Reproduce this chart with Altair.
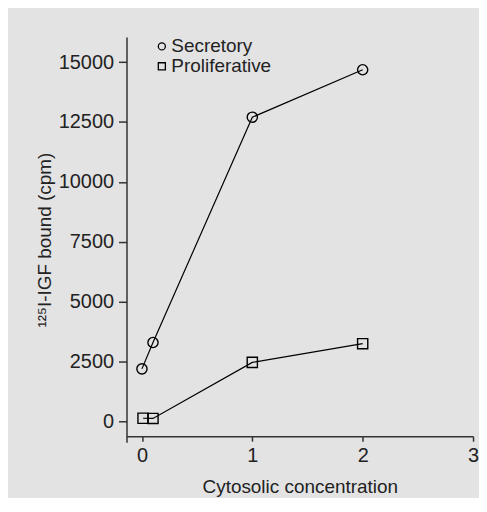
import altair as alt
import pandas as pd

series = ["Secretory"] * 4 + ["Proliferative"] * 4
conc = [0, 0.1, 1, 2, 0.01, 0.1, 1, 2]
bound = [2200, 3300, 12700, 14680, 140, 130, 2470, 3250]
y_ticks = [0, 2500, 5000, 7500, 10000, 12500, 15000]
x_ticks = [0, 1, 2, 3]

df = pd.DataFrame({"conc": conc, "bound": bound, "series": series})

FONT = "Liberation Sans"
TXT = "#222222"
AX = "#333333"

x = alt.X("conc:Q", scale=alt.Scale(domain=[-0.14, 3], nice=False, zero=False),
          axis=alt.Axis(values=x_ticks, title="Cytosolic concentration", tickSize=5,
                        offset=-6, labelPadding=4, titlePadding=13, format="d",
                        labelFlush=False))
y = alt.Y("bound:Q", scale=alt.Scale(domain=[-860, 16050], nice=False, zero=False),
          axis=alt.Axis(values=y_ticks, title="¹²⁵I-IGF bound (cpm)", tickSize=8,
                        labelPadding=5, titlePadding=4, format="d", labelFlush=False))

lines = alt.Chart(df).mark_line(color="black", strokeWidth=1.2).encode(
    x=x, y=y, detail="series:N")

points = alt.Chart(df).mark_point(filled=False, color="black", strokeWidth=1.4,
                                  size=105, opacity=1).encode(
    x=x, y=y,
    shape=alt.Shape("series:N",
                    scale=alt.Scale(domain=["Secretory", "Proliferative"],
                                    range=["circle", "square"]),
                    legend=alt.Legend(title=None, orient="none", legendX=26, legendY=0,
                                      symbolSize=50, symbolStrokeColor="black",
                                      symbolStrokeWidth=1.3, symbolOpacity=1,
                                      labelFontSize=19, labelFont=FONT, labelColor=TXT,
                                      labelOffset=0, rowPadding=0, padding=0)))

chart = (lines + points).properties(
    width=348, height=407,
    autosize=alt.AutoSizeParams(type="none"),
    padding={"left": 119, "top": 28, "right": 6, "bottom": 55},
    background="#e3e3e3",
).configure_view(stroke=None).configure_axis(
    grid=False, domainColor=AX, domainWidth=1.5, tickColor=AX, tickWidth=1.5,
    labelFont=FONT, labelFontSize=20, labelColor=TXT,
    titleFont=FONT, titleFontSize=19, titleFontWeight="normal", titleColor=TXT,
)

chart.save("out.html", embed_options={"renderer": "svg", "actions": False})
